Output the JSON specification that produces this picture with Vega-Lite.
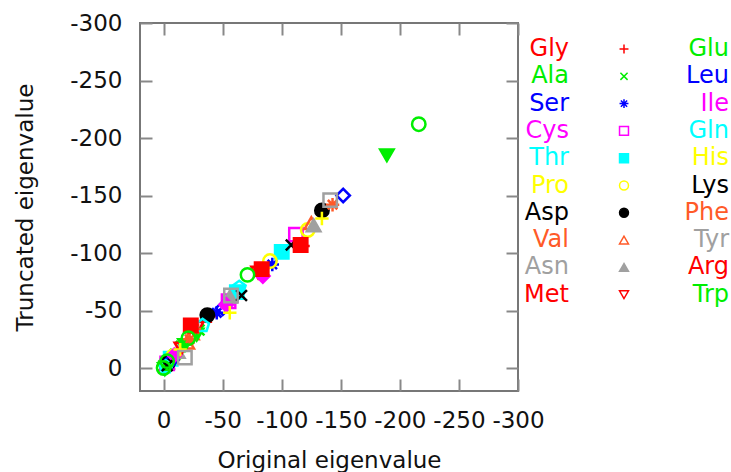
{
  "$schema": "https://vega.github.io/schema/vega-lite/v6.json",
  "width": 378,
  "height": 368,
  "autosize": {"type": "none"},
  "padding": {"left": 140, "top": 23, "right": 213, "bottom": 81},
  "background": "white",
  "config": {
    "font": "DejaVu Sans",
    "view": {"stroke": "#777777", "strokeWidth": 2},
    "axis": {
      "domain": false,
      "grid": false,
      "tickColor": "#888888",
      "tickWidth": 2,
      "tickSize": -12,
      "labelFont": "DejaVu Sans",
      "labelFontSize": 23,
      "labelColor": "#111111",
      "labelOverlap": false,
      "labelFlush": false,
      "labelBound": false,
      "titleFont": "DejaVu Sans",
      "titleFontSize": 23,
      "titleFontWeight": "normal",
      "titleColor": "#111111"
    }
  },
  "data": {
    "values": [
      {"name": "Gly", "orig": -2, "trunc": -3},
      {"name": "Gly", "orig": -40, "trunc": -45},
      {"name": "Gly", "orig": -118, "trunc": -106},
      {"name": "Ala", "orig": 0, "trunc": -2},
      {"name": "Ala", "orig": -10, "trunc": -12},
      {"name": "Ala", "orig": -30, "trunc": -33},
      {"name": "Ala", "orig": -5, "trunc": -3},
      {"name": "Ala", "orig": -15, "trunc": -19},
      {"name": "Ser", "orig": -5, "trunc": -6},
      {"name": "Ser", "orig": -45, "trunc": -48},
      {"name": "Ser", "orig": -92, "trunc": -90},
      {"name": "Cys", "orig": -3, "trunc": -4},
      {"name": "Cys", "orig": -55, "trunc": -58},
      {"name": "Cys", "orig": -112, "trunc": -116},
      {"name": "Thr", "orig": -6, "trunc": -8},
      {"name": "Thr", "orig": -62, "trunc": -66},
      {"name": "Thr", "orig": -100, "trunc": -101},
      {"name": "Pro", "orig": -8, "trunc": -10},
      {"name": "Pro", "orig": -90, "trunc": -93},
      {"name": "Pro", "orig": -122, "trunc": -120},
      {"name": "Asp", "orig": -4, "trunc": -5},
      {"name": "Asp", "orig": -37, "trunc": -46},
      {"name": "Asp", "orig": -134, "trunc": -137},
      {"name": "Val", "orig": -20, "trunc": -22},
      {"name": "Val", "orig": -24, "trunc": -30},
      {"name": "Val", "orig": -125, "trunc": -126},
      {"name": "Asn", "orig": -12, "trunc": -14},
      {"name": "Asn", "orig": -56, "trunc": -62},
      {"name": "Asn", "orig": -127, "trunc": -124},
      {"name": "Met", "orig": -15, "trunc": -17},
      {"name": "Met", "orig": -28, "trunc": -35},
      {"name": "Met", "orig": -80, "trunc": -83},
      {"name": "Glu", "orig": -1, "trunc": 1},
      {"name": "Glu", "orig": -18, "trunc": -20},
      {"name": "Glu", "orig": -189, "trunc": -185},
      {"name": "Glu", "orig": -28, "trunc": -29},
      {"name": "Leu", "orig": -7, "trunc": -7},
      {"name": "Leu", "orig": -50, "trunc": -52},
      {"name": "Leu", "orig": -152, "trunc": -150},
      {"name": "Ile", "orig": -9, "trunc": -11},
      {"name": "Ile", "orig": -53, "trunc": -55},
      {"name": "Ile", "orig": -84, "trunc": -80},
      {"name": "Gln", "orig": -2, "trunc": -1},
      {"name": "Gln", "orig": -33, "trunc": -37},
      {"name": "Gln", "orig": -64, "trunc": -70},
      {"name": "His", "orig": -14, "trunc": -16},
      {"name": "His", "orig": -56, "trunc": -48},
      {"name": "His", "orig": -134, "trunc": -130},
      {"name": "Lys", "orig": -3, "trunc": -2},
      {"name": "Lys", "orig": -66, "trunc": -63},
      {"name": "Lys", "orig": -108, "trunc": -107},
      {"name": "Phe", "orig": -22, "trunc": -25},
      {"name": "Phe", "orig": -26, "trunc": -34},
      {"name": "Phe", "orig": -143, "trunc": -142},
      {"name": "Tyr", "orig": -18, "trunc": -9},
      {"name": "Tyr", "orig": -57, "trunc": -63},
      {"name": "Tyr", "orig": -141, "trunc": -146},
      {"name": "Arg", "orig": -23, "trunc": -37},
      {"name": "Arg", "orig": -83, "trunc": -86},
      {"name": "Arg", "orig": -116, "trunc": -107},
      {"name": "Trp", "orig": 0, "trunc": 0},
      {"name": "Trp", "orig": -3, "trunc": -6},
      {"name": "Trp", "orig": -21, "trunc": -26},
      {"name": "Trp", "orig": -71, "trunc": -81},
      {"name": "Trp", "orig": -216, "trunc": -212}
    ]
  },
  "resolve": {"axis": {"x": "independent", "y": "independent"}},
  "layer": [
    {
      "mark": {"type": "point", "filled": false, "size": 180, "strokeWidth": 2.5, "opacity": 1},
      "encoding": {
        "x": {
          "field": "orig", "type": "quantitative",
          "scale": {"domain": [-300, 20], "reverse": true, "nice": false, "zero": false},
          "axis": {"orient": "bottom", "values": [0, -50, -100, -150, -200, -250, -300], "labelExpr": "'' + datum.value", "title": "Original eigenvalue", "labelPadding": 30, "titlePadding": 17}
        },
        "y": {
          "field": "trunc", "type": "quantitative",
          "scale": {"domain": [-300, 20], "reverse": true, "nice": false, "zero": false},
          "axis": {"orient": "left", "values": [0, -50, -100, -150, -200, -250, -300], "labelExpr": "'' + datum.value", "title": "Truncated eigenvalue", "labelPadding": 30, "titlePadding": 32}
        },
        "stroke": {
          "field": "name", "type": "nominal",
          "scale": {
            "domain": ["Gly", "Ala", "Ser", "Cys", "Thr", "Pro", "Asp", "Val", "Asn", "Met", "Glu", "Leu", "Ile", "Gln", "His", "Lys", "Phe", "Tyr", "Arg", "Trp"],
            "range": ["#ff0000", "#00ee00", "#0000ff", "#ff00ff", "#00ffff", "#ffff00", "#000000", "#ff5a28", "#a0a0a0", "#ff0000", "#00ee00", "#0000ff", "#ff00ff", "#00ffff", "#ffff00", "#000000", "#ff5a28", "#a0a0a0", "#ff0000", "#00ee00"]
          },
          "legend": {
            "title": null,
            "orient": "right",
            "offset": 79,
            "padding": 14,
            "columns": 2,
            "columnPadding": 52,
            "rowPadding": 3.3,
            "symbolSize": 80,
            "symbolStrokeWidth": 1.5,
            "labelFont": "DejaVu Sans",
            "labelFontSize": 24,
            "labelAlign": "right",
            "labelOffset": -67,
            "labelLimit": 200,
            "labelColor": {"expr": "scale('stroke', datum.value)"}
          }
        },
        "fill": {
          "field": "name", "type": "nominal",
          "scale": {
            "domain": ["Gly", "Ala", "Ser", "Cys", "Thr", "Pro", "Asp", "Val", "Asn", "Met", "Glu", "Leu", "Ile", "Gln", "His", "Lys", "Phe", "Tyr", "Arg", "Trp"],
            "range": ["transparent", "transparent", "transparent", "transparent", "#00ffff", "transparent", "#000000", "transparent", "#a0a0a0", "transparent", "#00ee00", "transparent", "#ff00ff", "transparent", "transparent", "transparent", "transparent", "transparent", "#ff0000", "transparent"]
          }
        },
        "shape": {
          "field": "name", "type": "nominal",
          "scale": {
            "domain": ["Gly", "Ala", "Ser", "Cys", "Thr", "Pro", "Asp", "Val", "Asn", "Met", "Glu", "Leu", "Ile", "Gln", "His", "Lys", "Phe", "Tyr", "Arg", "Trp"],
            "range": ["M-1,0H1M0,-1V1", "M-0.8,-0.8L0.8,0.8M-0.8,0.8L0.8,-0.8", "M-1,0H1M0,-1V1M-0.7,-0.7L0.7,0.7M-0.7,0.7L0.7,-0.7", "square", "square", "circle", "circle", "triangle-up", "triangle-up", "triangle-down", "triangle-down", "diamond", "diamond", "M0,-1L0.95,-0.31L0.59,0.81L-0.59,0.81L-0.95,-0.31Z", "M-1,0H1M0,-1V1", "M-0.8,-0.8L0.8,0.8M-0.8,0.8L0.8,-0.8", "M-1,0H1M0,-1V1M-0.7,-0.7L0.7,0.7M-0.7,0.7L0.7,-0.7", "square", "square", "circle"]
          }
        }
      }
    },
    {
      "mark": {"type": "point", "opacity": 0},
      "encoding": {
        "x": {
          "field": "orig", "type": "quantitative",
          "scale": {"domain": [-300, 20], "reverse": true, "nice": false, "zero": false},
          "axis": {"orient": "top", "values": [0, -50, -100, -150, -200, -250, -300], "labels": false, "title": null}
        },
        "y": {
          "field": "trunc", "type": "quantitative",
          "scale": {"domain": [-300, 20], "reverse": true, "nice": false, "zero": false},
          "axis": {"orient": "right", "values": [0, -50, -100, -150, -200, -250, -300], "labels": false, "title": null}
        }
      }
    }
  ]
}
